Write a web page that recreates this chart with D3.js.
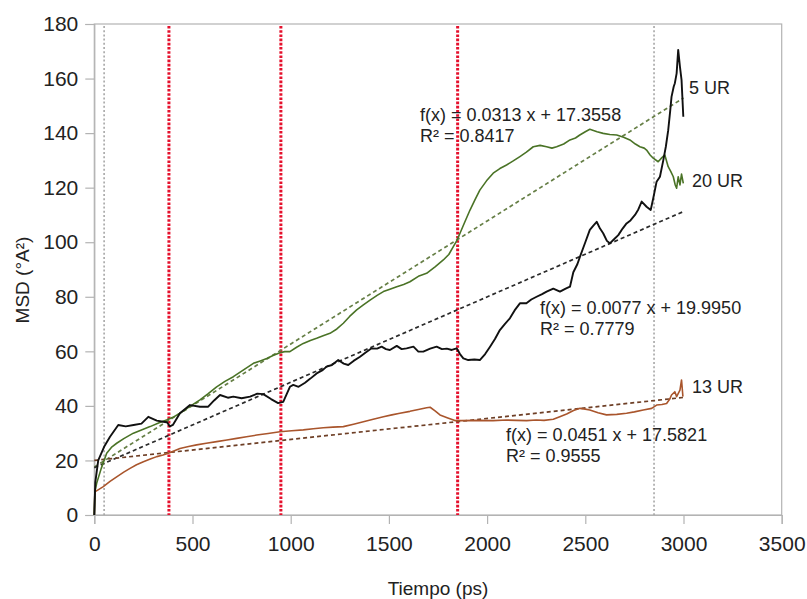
<!DOCTYPE html>
<html>
<head>
<meta charset="utf-8">
<script src="https://cdn.jsdelivr.net/npm/d3@7"></script>
<style>
  html, body { margin: 0; padding: 0; background: #fff; }
  svg { display: block; font-family: "Liberation Sans", Arial, sans-serif; }
</style>
</head>
<body>
<svg id="chart" width="807" height="599"></svg>
<script>
// MSD (°A²) against simulation time (ps) for three systems, [time, msd]
const ur5 = [[0,0],[5,12],[20,20],[50,25],[80,28.7],[122,33],[160,32.5],[200,33],[240,33.5],[275,36],[318,34.6],[351,34.2],[370,34],[385,32.5],[400,33],[436,37.3],[487,40.3],[538,39.7],[580,39.7],[610,42],[640,44],[680,43],[708,43.4],[750,42.8],[793,43.4],[830,44.5],[860,44.3],[900,42.5],[936,41],[962,41.5],[996,47],[1013,47.7],[1040,47],[1073,48.5],[1100,50],[1132,51.9],[1160,53],[1183,54.4],[1210,55],[1242,56.8],[1270,55.5],[1293,55],[1320,56.5],[1353,58],[1380,59.5],[1412,61.1],[1440,61],[1463,61.7],[1485,60.8],[1505,60.5],[1540,62],[1565,60.8],[1590,61.1],[1625,61.7],[1650,59.9],[1675,59.9],[1710,61],[1743,61.7],[1770,60.8],[1795,61],[1820,60.5],[1845,61.1],[1862,59],[1879,57.4],[1904,56.8],[1935,57],[1963,56.8],[1990,59],[2015,61.7],[2040,64.5],[2065,67.8],[2090,70],[2116,72.1],[2140,75],[2167,77.6],[2200,77.6],[2225,79],[2252,80],[2280,81],[2303,81.9],[2337,83],[2371,81.9],[2400,83],[2422,83.7],[2439,89],[2460,92],[2473,94.7],[2500,100],[2523,104.5],[2540,106],[2558,107.5],[2575,105],[2591,103.3],[2610,100.5],[2625,99.6],[2645,101],[2668,102.6],[2690,105],[2710,106.9],[2730,108],[2753,110],[2770,112],[2787,114.9],[2812,113],[2833,111.8],[2846,116.1],[2863,122.2],[2880,124],[2897,130],[2910,135],[2922,141],[2932,148],[2939,153.3],[2950,157],[2956,158.3],[2965,161.9],[2973,170.5],[2982,164.3],[2990,159.5],[2999,146]];

const ur20 = [[0,0],[3,8.5],[12,11.6],[35,17],[63,22.6],[90,25],[114,26.3],[150,28],[199,30],[240,31.2],[284,32.4],[330,33.8],[368,34.8],[400,35.8],[436,37.3],[487,39.8],[538,42.2],[580,44.5],[623,47],[665,49],[708,50.7],[760,53.2],[810,55.6],[845,56.5],[878,57.4],[910,58.5],[945,59.5],[970,59.9],[996,59.9],[1030,61.5],[1064,62.9],[1100,64],[1132,64.8],[1165,65.7],[1200,66.6],[1235,68.2],[1268,70.3],[1300,72.8],[1336,75.2],[1370,77],[1404,78.8],[1440,80.5],[1472,81.9],[1505,82.8],[1540,83.7],[1575,84.5],[1607,85.5],[1650,87.5],[1692,88.6],[1735,91],[1777,93.5],[1805,95.5],[1828,98.4],[1845,100.5],[1862,103.3],[1887,107.5],[1913,111.8],[1938,115.5],[1963,119.1],[1997,122.5],[2031,125.3],[2065,127],[2099,128.3],[2133,129.8],[2167,131.4],[2200,133],[2235,135],[2270,135.5],[2303,135],[2330,134.5],[2354,135],[2390,136],[2422,137.5],[2450,138.2],[2472,139.3],[2500,140.5],[2523,141.4],[2560,140.5],[2591,139.9],[2625,139.5],[2660,139.3],[2695,138.5],[2727,137.5],[2755,136],[2778,135],[2800,134.5],[2812,133.8],[2830,132],[2846,130.8],[2871,129.5],[2890,131],[2905,132],[2922,127.7],[2935,126],[2948,124],[2958,121],[2965,119.8],[2973,124],[2982,121],[2990,125],[2999,121.6]];

const ur13 = [[0,0],[3,8.5],[46,10.4],[80,12.3],[114,14],[150,15.7],[182,17.1],[215,18.4],[250,19.5],[285,20.5],[318,21.4],[350,22],[377,22.6],[405,23.5],[436,24.4],[480,25.1],[521,25.7],[570,26.3],[623,26.9],[675,27.5],[725,28.1],[775,28.7],[827,29.3],[885,29.9],[945,30.5],[1005,30.9],[1064,31.2],[1115,31.6],[1166,32],[1215,32.2],[1268,32.4],[1320,33.3],[1370,34.2],[1420,35.1],[1472,36],[1515,36.7],[1556,37.3],[1607,38],[1650,38.7],[1692,39.3],[1710,39.5],[1735,38.2],[1760,36.7],[1800,35.6],[1836,34.6],[1870,34.6],[1950,34.7],[2031,34.6],[2100,34.8],[2150,34.7],[2201,34.6],[2250,34.8],[2290,34.7],[2337,35.1],[2370,36],[2405,37],[2440,38.3],[2473,39.1],[2500,38.8],[2523,38.5],[2565,37.5],[2608,36.7],[2660,36.9],[2710,37.3],[2750,37.8],[2795,38.5],[2838,39.1],[2863,40.3],[2890,40.5],[2914,40.9],[2930,42.5],[2939,44],[2956,45.2],[2965,43.4],[2982,45.8],[2990,49.5],[2997,43.4]];

// linear fits: [slope, intercept, R²]
const fit5 = [0.0313, 17.3558, 0.8417];
const fit20 = [0.0451, 17.5821, 0.9555];
const fit13 = [0.0077, 19.9950, 0.7779];

const seriesNames = ["5 UR", "20 UR", "13 UR"];
const xTicks = [0, 500, 1000, 1500, 2000, 2500, 3000, 3500];
const yTicks = [0, 20, 40, 60, 80, 100, 120, 140, 160, 180];
const redMarkers = [380, 950, 1850];
const greyMarkers = [50, 2850];

const svg = d3.select("#chart");
const plotL = 94.3, plotR = 781.7, plotT = 24, plotB = 515;

const x = d3.scaleLinear().domain([0, 3500]).range([plotL, plotR]);
const y = d3.scaleLinear().domain([0, 180]).range([plotB, plotT]);

// plot frame
svg.append("rect")
  .attr("x", plotL).attr("y", plotT)
  .attr("width", plotR - plotL).attr("height", plotB - plotT)
  .attr("fill", "none").attr("stroke", "#b3b3b3").attr("stroke-width", 1.2);

const axisColor = "#b3b3b3";
const yAxis = svg.append("g")
  .attr("transform", `translate(${plotL},0)`)
  .call(d3.axisLeft(y).tickValues(yTicks).tickSize(9).tickPadding(7).tickFormat(d3.format("d")));
const xAxis = svg.append("g")
  .attr("transform", `translate(0,${plotB})`)
  .call(d3.axisBottom(x).tickValues(xTicks).tickSize(9).tickPadding(12).tickFormat(d3.format("d")));
[xAxis, yAxis].forEach(g => {
  g.select(".domain").attr("stroke", axisColor).attr("stroke-width", 1.2);
  g.selectAll(".tick line").attr("stroke", axisColor).attr("stroke-width", 1.2);
  g.selectAll(".tick text")
    .attr("fill", "#222")
    .style("font-size", "21px")
    .style("font-family", "'Liberation Sans', Arial, sans-serif");
});

// vertical marker lines
svg.append("g").selectAll("line").data(greyMarkers).join("line")
  .attr("x1", d => x(d)).attr("x2", d => x(d))
  .attr("y1", plotT + 2).attr("y2", plotB)
  .attr("stroke", "#a6a6a6").attr("stroke-width", 1.6)
  .attr("stroke-dasharray", "2,2.2");
svg.append("g").selectAll("line").data(redMarkers).join("line")
  .attr("x1", d => x(d)).attr("x2", d => x(d))
  .attr("y1", plotT + 2).attr("y2", plotB)
  .attr("stroke", "#e5102c").attr("stroke-width", 3)
  .attr("stroke-dasharray", "2.6,1.6");

// trend lines over the simulated time range
const trend = (f) => [[0, f[1]], [3000, f[1] + f[0] * 3000]];
const line = d3.line().x(d => x(d[0])).y(d => y(d[1]));
const trends = [
  { f: fit20, color: "#667f46" },
  { f: fit5, color: "#2a2a2a" },
  { f: fit13, color: "#6e3f26" }
];
svg.append("g").selectAll("path").data(trends).join("path")
  .attr("d", d => line(trend(d.f)))
  .attr("fill", "none").attr("stroke", d => d.color)
  .attr("stroke-width", 1.7).attr("stroke-dasharray", "4,3");

// data curves
const curves = [
  { data: ur13, color: "#a9552c", w: 1.6 },
  { data: ur20, color: "#4a7326", w: 1.6 },
  { data: ur5, color: "#111111", w: 1.9 }
];
svg.append("g").selectAll("path").data(curves).join("path")
  .attr("d", d => line(d.data))
  .attr("fill", "none").attr("stroke", d => d.color)
  .attr("stroke-width", d => d.w).attr("stroke-linejoin", "round");

// series labels
const labels = [
  { t: seriesNames[0], x: 689, y: 88 },
  { t: seriesNames[1], x: 692, y: 181 },
  { t: seriesNames[2], x: 692, y: 387 }
];
svg.append("g").selectAll("text").data(labels).join("text")
  .attr("x", d => d.x).attr("y", d => d.y)
  .attr("dominant-baseline", "central")
  .attr("fill", "#222").style("font-size", "18px")
  .text(d => d.t);

// fit equations
const fmt = d3.format(".4f");
const eqs = [
  { f: fit5, x: 420, y: 115 },
  { f: fit13, x: 540, y: 308 },
  { f: fit20, x: 506, y: 435 }
];
const eqG = svg.append("g").selectAll("g").data(eqs).join("g");
eqG.append("text")
  .attr("x", d => d.x).attr("y", d => d.y)
  .attr("dominant-baseline", "central")
  .attr("fill", "#222").style("font-size", "18px")
  .text(d => `f(x) = ${fmt(d.f[0])} x + ${fmt(d.f[1])}`);
eqG.append("text")
  .attr("x", d => d.x).attr("y", d => d.y + 20.5)
  .attr("dominant-baseline", "central")
  .attr("fill", "#222").style("font-size", "18px")
  .text(d => `R² = ${fmt(d.f[2])}`);

// axis titles
svg.append("text")
  .attr("x", (plotL + plotR) / 2).attr("y", 588)
  .attr("text-anchor", "middle").attr("dominant-baseline", "central")
  .attr("fill", "#222").style("font-size", "19px")
  .text("Tiempo (ps)");
svg.append("text")
  .attr("transform", "translate(22,280) rotate(-90)")
  .attr("text-anchor", "middle").attr("dominant-baseline", "central")
  .attr("fill", "#222").style("font-size", "19px")
  .text("MSD (°A²)");
</script>
</body>
</html>
